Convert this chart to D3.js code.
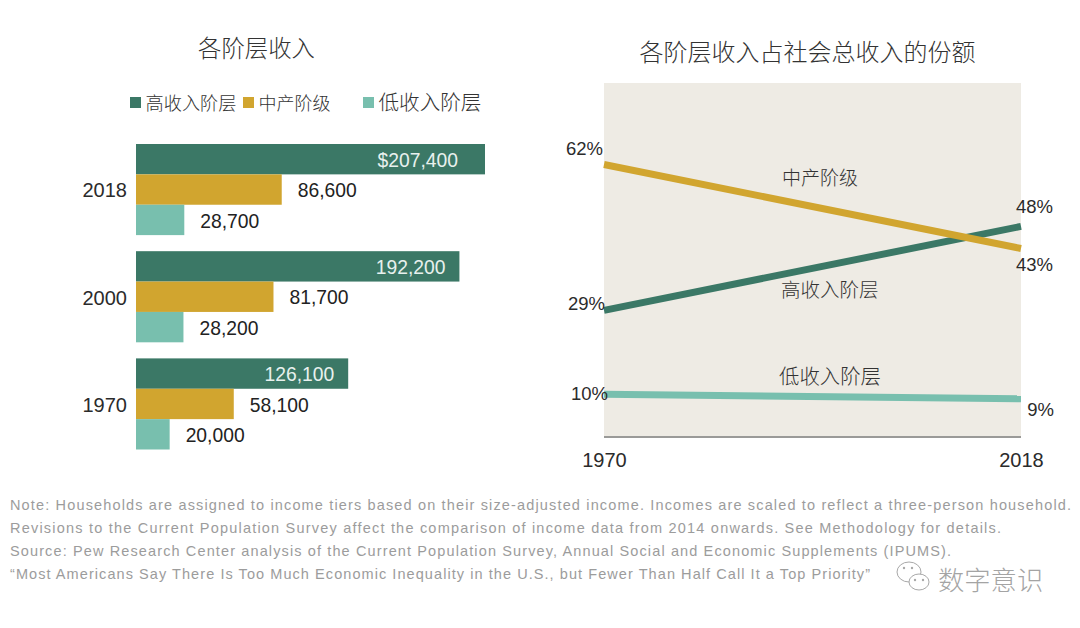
<!DOCTYPE html>
<html>
<head>
<meta charset="utf-8">
<script src="https://cdn.jsdelivr.net/npm/d3@7"></script>
<style>
  html, body { margin: 0; padding: 0; background: #fff; }
  svg { display: block; }
  text { font-family: "Liberation Sans", sans-serif; }
  .cjk { font-family: "Noto Sans CJK SC", sans-serif; font-weight: 300; fill: #333; }
  .axis path, .axis line { display: none; }
  .axis text { font-family: "Liberation Sans", sans-serif; font-size: 20px; fill: #2b2b2b; }
</style>
</head>
<body>
<svg id="chart" width="1080" height="628"></svg>
<script>
const years = ['2018', '2000', '1970'];
const tiers = ['高收入阶层', '中产阶级', '低收入阶层'];
const upperIncome = [207400, 192200, 126100];
const middleIncome = [86600, 81700, 58100];
const lowerIncome = [28700, 28200, 20000];
const incomeLabels = [
    ['$207,400', '86,600', '28,700'],
    ['192,200', '81,700', '28,200'],
    ['126,100', '58,100', '20,000']
];

const shareYears = [1970, 2018];
const upperShare = [29, 48];
const middleShare = [62, 43];
const lowerShare = [10, 9];

const notes = [
    'Note: Households are assigned to income tiers based on their size-adjusted income. Incomes are scaled to reflect a three-person household.',
    'Revisions to the Current Population Survey affect the comparison of income data from 2014 onwards. See Methodology for details.',
    'Source: Pew Research Center analysis of the Current Population Survey, Annual Social and Economic Supplements (IPUMS).',
    '“Most Americans Say There Is Too Much Economic Inequality in the U.S., but Fewer Than Half Call It a Top Priority”'
];

const COLOR_UPPER = '#3b7866';
const COLOR_MIDDLE = '#d1a52f';
const COLOR_LOWER = '#78bfae';
const COLOR_PANEL = '#eeebe4';
const tierColors = [COLOR_UPPER, COLOR_MIDDLE, COLOR_LOWER];

const svg = d3.select('#chart');

// 标题
svg.append('text').attr('class', 'cjk').text('各阶层收入')
    .attr('x', 256.5).attr('y', 57).attr('text-anchor', 'middle').attr('font-size', 23.4);
svg.append('text').attr('class', 'cjk').text('各阶层收入占社会总收入的份额')
    .attr('x', 807.5).attr('y', 61).attr('text-anchor', 'middle').attr('font-size', 24);

// 图例
const legendX = [130, 243, 363];
const legendSize = [18.2, 18, 20.6];
tiers.forEach((tier, i) => {
    svg.append('rect')
        .attr('x', legendX[i]).attr('y', 97).attr('width', 11).attr('height', 11)
        .attr('fill', tierColors[i]);
    svg.append('text').attr('class', 'cjk').text(tier)
        .attr('x', legendX[i] + 15.5).attr('y', 109.5)
        .attr('font-size', legendSize[i]);
});

// 左图: 收入条形图
const xIncome = d3.scaleLinear().domain([0, 207400]).range([136, 485]);
const yGroup = d3.scaleBand().domain(years).range([144, 449.5]).paddingInner(0.15);
const yTier = d3.scaleBand().domain(d3.range(3)).range([0, yGroup.bandwidth()]);

svg.append('g').attr('class', 'axis')
    .attr('transform', 'translate(136,1.5)')
    .call(d3.axisLeft(yGroup).tickSize(0).tickPadding(9));

const insideOffset = [27, 14, 14];
[upperIncome, middleIncome, lowerIncome].forEach((series, t) => {
    svg.append('g').selectAll('rect').data(series).join('rect')
        .attr('x', xIncome(0))
        .attr('y', (d, i) => yGroup(years[i]) + yTier(t))
        .attr('width', d => xIncome(d) - xIncome(0))
        .attr('height', yTier.bandwidth())
        .attr('fill', tierColors[t]);

    svg.append('g').selectAll('text').data(series).join('text')
        .text((d, i) => incomeLabels[i][t])
        .attr('x', (d, i) => t === 0 ? xIncome(d) - insideOffset[i] : xIncome(d) + 16)
        .attr('y', (d, i) => yGroup(years[i]) + yTier(t) + yTier.bandwidth() / 2 + 2.5)
        .attr('dominant-baseline', 'middle')
        .attr('text-anchor', t === 0 ? 'end' : 'start')
        .attr('font-size', 19.3)
        .attr('fill', t === 0 ? '#e8f1ee' : '#222');
});

// 右图: 份额折线图
const xYear = d3.scaleLinear().domain(shareYears).range([604, 1021]);
const yShare = d3.scaleLinear().domain([0, 80]).range([438.5, 85]);

svg.append('rect')
    .attr('x', 604).attr('y', 83).attr('width', 417).attr('height', 354)
    .attr('fill', COLOR_PANEL);
svg.append('line')
    .attr('x1', 604).attr('x2', 1021).attr('y1', 437).attr('y2', 437)
    .attr('stroke', '#9a9a98').attr('stroke-width', 2);

const line = d3.line().x((d, i) => xYear(shareYears[i])).y(d => yShare(d));
[upperShare, middleShare, lowerShare].forEach((series, t) => {
    svg.append('path')
        .attr('d', line(series))
        .attr('fill', 'none')
        .attr('stroke', tierColors[t])
        .attr('stroke-width', 7);
});

const leftLabelX = [605, 603, 608];
const rightLabelX = [1053, 1053, 1054];
const leftLabelDy = [-5, -14, 1];
const rightLabelDy = [-18, 18, 12];
[upperShare, middleShare, lowerShare].forEach((series, t) => {
    svg.append('text').text(series[0] + '%')
        .attr('x', leftLabelX[t]).attr('y', yShare(series[0]) + leftLabelDy[t])
        .attr('dominant-baseline', 'middle').attr('text-anchor', 'end')
        .attr('font-size', 18.5).attr('fill', '#2b2b2b');
    svg.append('text').text(series[1] + '%')
        .attr('x', rightLabelX[t]).attr('y', yShare(series[1]) + rightLabelDy[t])
        .attr('dominant-baseline', 'middle').attr('text-anchor', 'end')
        .attr('font-size', 18.5).attr('fill', '#2b2b2b');
});

// 线上的名称
const lineLabelX = [781, 782, 779];
const lineLabelY = [297, 185, 384];
const lineLabelSize = [19.5, 19, 20.4];
tiers.forEach((tier, t) => {
    svg.append('text').attr('class', 'cjk').text(tier)
        .attr('x', lineLabelX[t]).attr('y', lineLabelY[t])
        .attr('font-size', lineLabelSize[t]);
});

svg.append('g').attr('class', 'axis')
    .attr('transform', 'translate(0,437)')
    .call(d3.axisBottom(xYear).tickValues(shareYears).tickFormat(d3.format('d')).tickSize(0).tickPadding(16));

// 注释
const noteEnd = [1071, 1001, 951, 870];
notes.forEach((note, i) => {
    svg.append('text').text(note)
        .attr('x', 10).attr('y', 510 + i * 23)
        .attr('font-size', 14.5)
        .attr('fill', '#9c9c9c')
        .attr('textLength', noteEnd[i] - 10)
        .attr('lengthAdjust', 'spacing');
});

// 水印
const mark = svg.append('g').attr('fill', 'none').attr('stroke', '#a8a8a8').attr('stroke-width', 1);
mark.append('ellipse').attr('cx', 909).attr('cy', 572).attr('rx', 12).attr('ry', 10);
mark.append('ellipse').attr('cx', 919).attr('cy', 582).attr('rx', 10).attr('ry', 8).attr('fill', '#fff');
[[904, 568], [912, 568], [915, 580], [923, 580]].forEach(p => {
    svg.append('circle').attr('cx', p[0]).attr('cy', p[1]).attr('r', 1.2).attr('fill', '#a8a8a8');
});
svg.append('text').attr('class', 'cjk').text('数字意识')
    .attr('x', 938).attr('y', 590).attr('font-size', 26.3).style('fill', '#a4a4a4');
</script>
</body>
</html>
